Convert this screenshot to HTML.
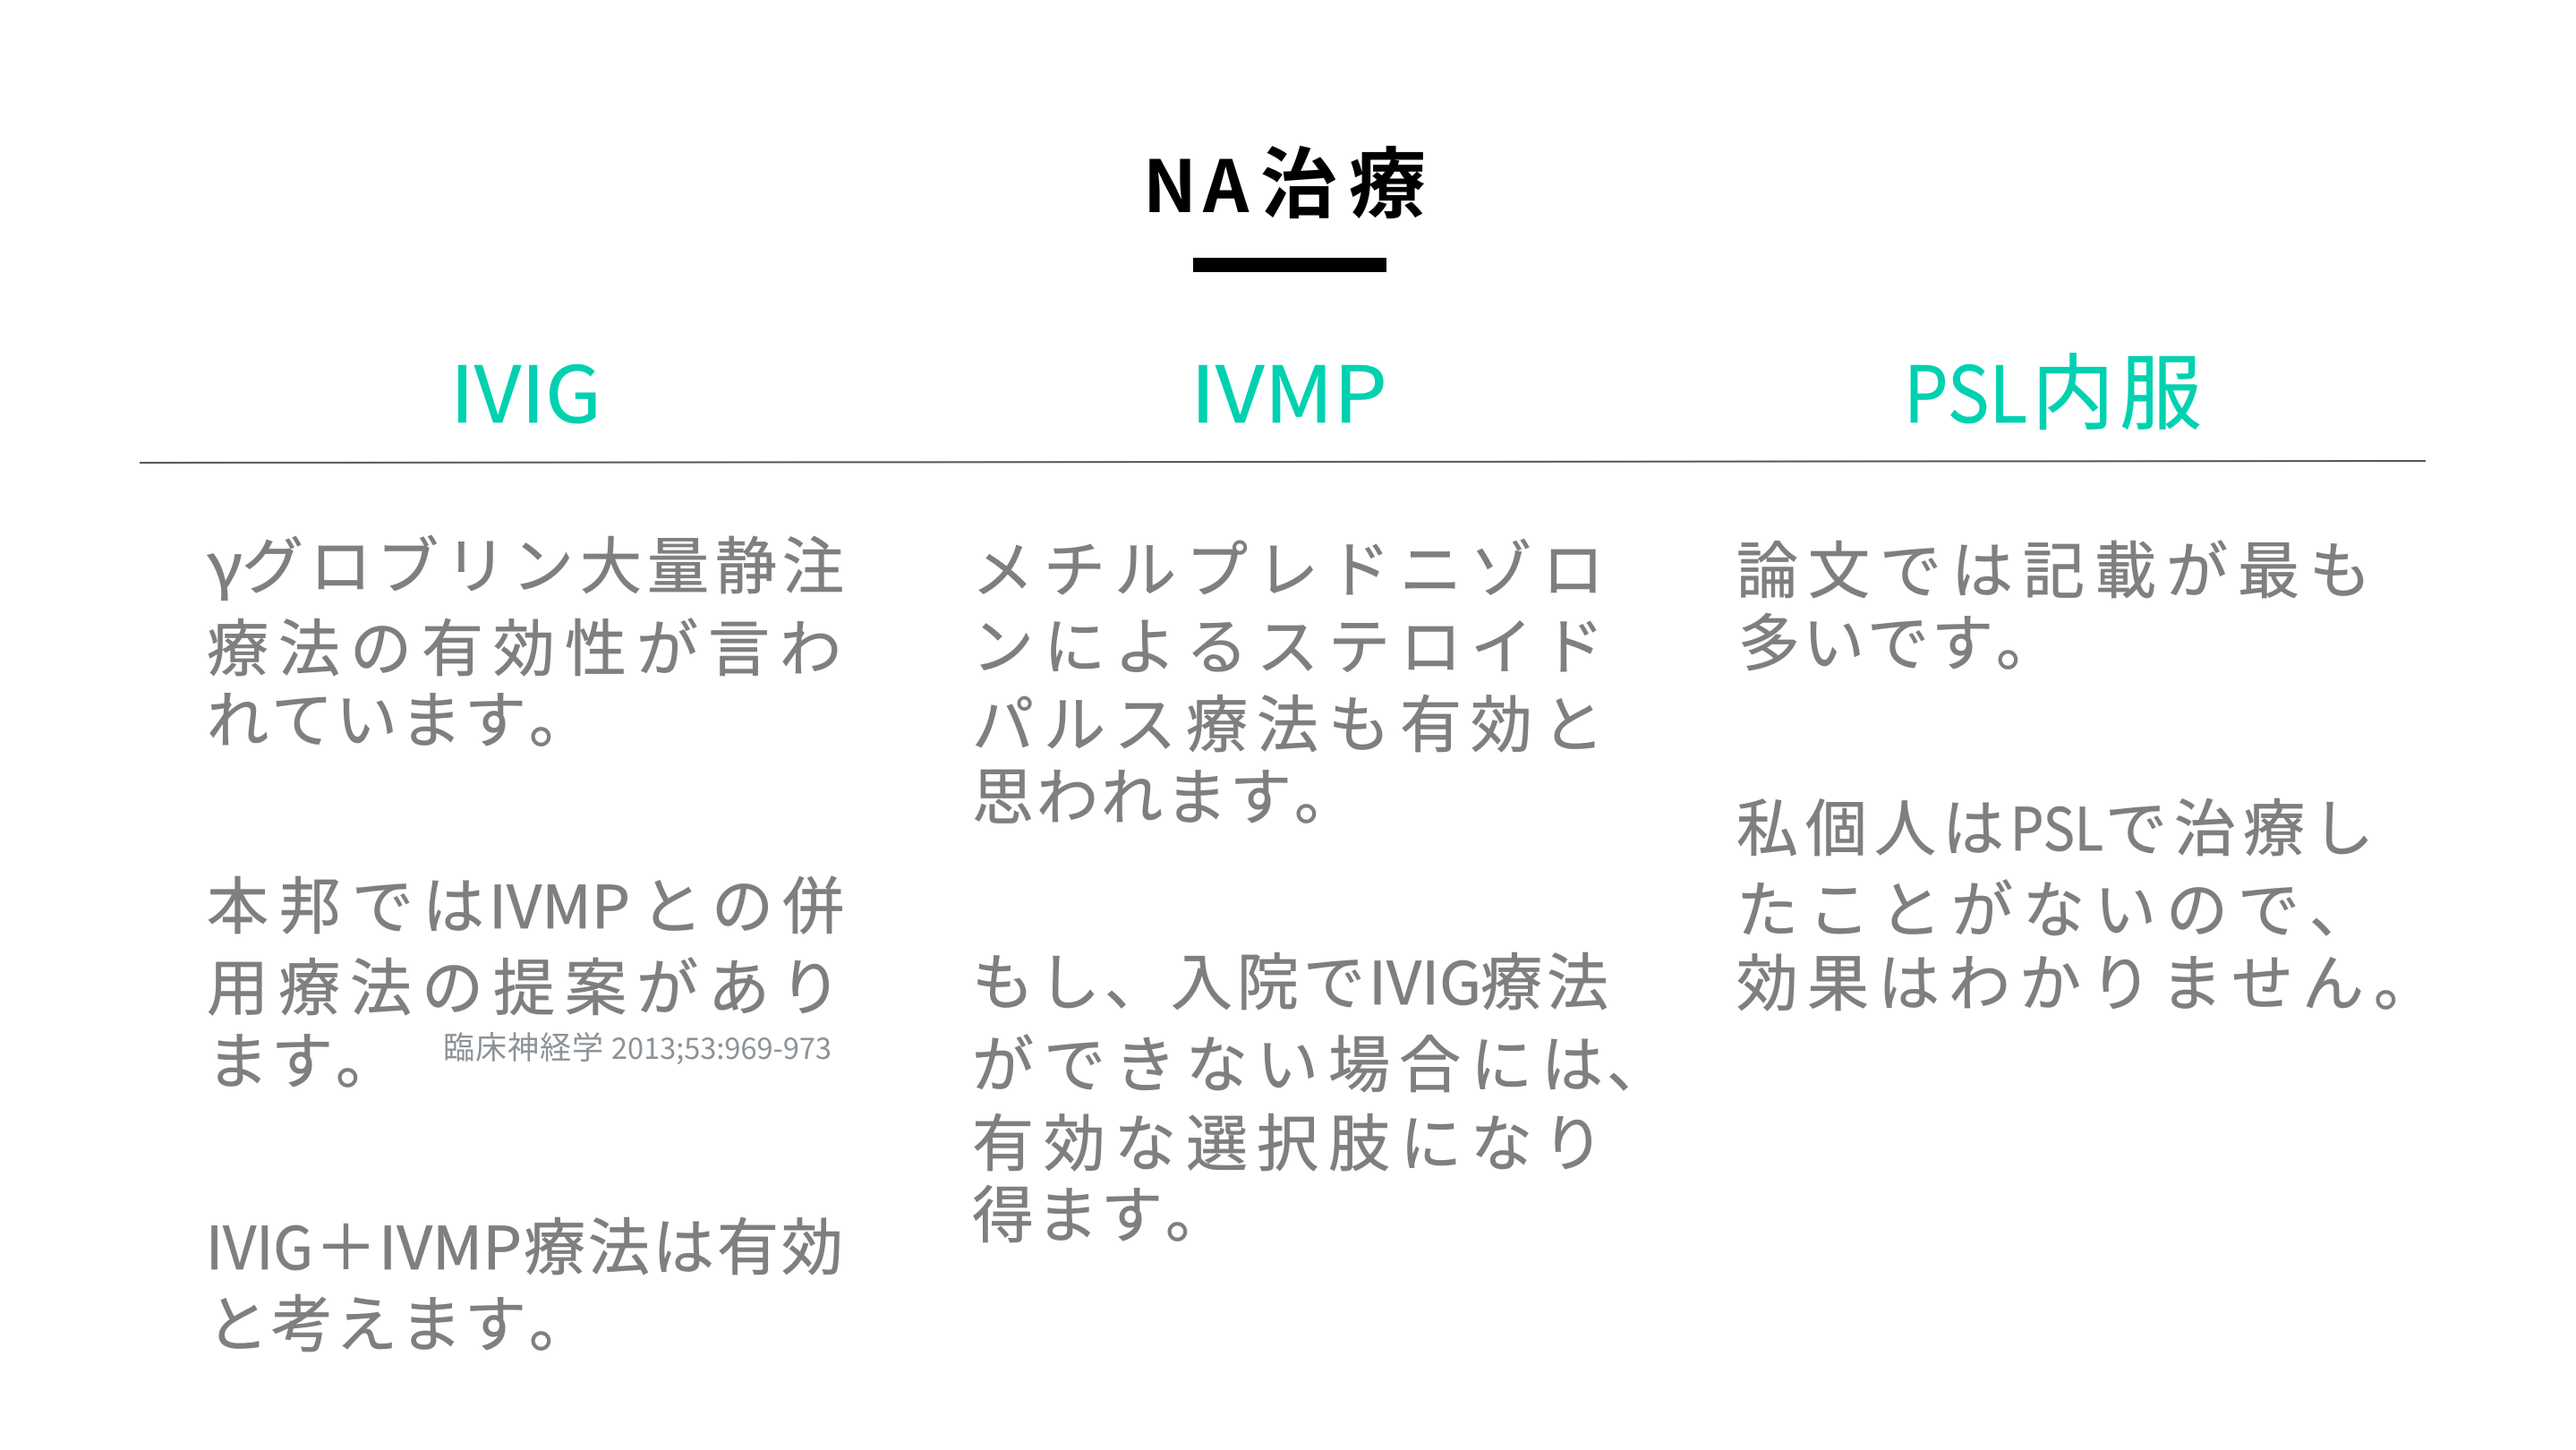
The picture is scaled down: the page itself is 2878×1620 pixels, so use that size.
<!DOCTYPE html>
<html><head><meta charset="utf-8"><style>
html,body{margin:0;padding:0;background:#fff}
svg{display:block}
text{font-family:"Noto Sans CJK JP","Liberation Sans",sans-serif}
.b{font-size:69px;fill:#7f7f7f;stroke:#7f7f7f;stroke-width:.7px}
.l{font-size:66px;fill:#7f7f7f;stroke:#7f7f7f;stroke-width:.7px}
.h{font-size:87px;fill:#00d1b0;stroke:#00d1b0;stroke-width:.6px}
.t{font-size:86px;font-weight:700;fill:#000}
</style></head><body>
<svg width="2878" height="1620" viewBox="0 0 2878 1620" xmlns="http://www.w3.org/2000/svg">
<rect width="2878" height="1620" fill="#fff"/>
<text class="t" x="1277 1344" y="237" style="font-size:80px">NA</text>
<text class="t" x="1408 1507" y="236">治療</text>
<rect x="1333" y="288" width="216" height="16" fill="#000"/>
<text class="h" x="503" y="472" textLength="169" lengthAdjust="spacingAndGlyphs">IVIG</text>
<text class="h" x="1330" y="472" textLength="220" lengthAdjust="spacingAndGlyphs">IVMP</text>
<text class="h" x="2127" y="472" textLength="138" lengthAdjust="spacingAndGlyphs">PSL</text>
<text class="h" x="2270 2368" y="472" style="font-size:92px">内服</text>
<line x1="156" y1="517" x2="2710" y2="515" stroke="#555" stroke-width="2"/>

<text class="b" x="231" y="657" textLength="40" lengthAdjust="spacingAndGlyphs">γ</text>
<text class="b" x="270 346 421 497 572 648 723 799 874" y="657">グロブリン大量静注</text>
<text class="b" x="231 311 391 471 551 631 711 791 871" y="749">療法の有効性が言わ</text>
<text class="b" x="231 303 375 447 519 591" y="829">れています。</text>
<text class="b" x="231 312 393 472" y="1037">本邦では</text>
<text class="l" x="546" y="1037" textLength="158" lengthAdjust="spacingAndGlyphs">IVMP</text>
<text class="b" x="716 795 874" y="1037">との併</text>
<text class="b" x="231 311 391 471 551 631 711 791 871" y="1128">用療法の提案があり</text>
<text class="b" x="231 303 375" y="1210">ます。</text>
<text x="495 531 567 603 639" y="1183" style="font-size:35px;fill:#8c9398">臨床神経学</text>
<text x="683" y="1183" style="font-size:33px;fill:#8c9398" textLength="246" lengthAdjust="spacingAndGlyphs">2013;53:969-973</text>
<text class="l" x="230" y="1418" textLength="120" lengthAdjust="spacingAndGlyphs">IVIG</text>
<text class="b" x="352" y="1418">＋</text>
<text class="l" x="423" y="1418" textLength="160" lengthAdjust="spacingAndGlyphs">IVMP</text>
<text class="b" x="585 657 729 801 873" y="1418">療法は有効</text>
<text class="b" x="231 303 375 447 519 591" y="1504">と考えます。</text>

<text class="b" x="1086 1166 1245 1325 1404 1484 1564 1643 1723" y="661">メチルプレドニゾロ</text>
<text class="b" x="1086 1166 1245 1325 1404 1484 1564 1643 1723" y="747">ンによるステロイド</text>
<text class="b" x="1086 1166 1245 1325 1404 1484 1564 1643 1723" y="834">パルス療法も有効と</text>
<text class="b" x="1086 1158 1230 1302 1374 1446" y="915">思われます。</text>
<text class="b" x="1086 1160 1234 1308 1382 1456" y="1122">もし、入院で</text>
<text class="l" x="1529" y="1122" textLength="126" lengthAdjust="spacingAndGlyphs">IVIG</text>
<text class="b" x="1654 1728" y="1122">療法</text>
<text class="b" x="1086 1166 1245 1325 1404 1484 1563 1643 1722 1795" y="1214">ができない場合には、</text>
<text class="b" x="1086 1166 1245 1325 1404 1484 1564 1643 1723" y="1302">有効な選択肢になり</text>
<text class="b" x="1086 1158 1230 1302" y="1382">得ます。</text>

<text class="b" x="1940 2020 2100 2180 2260 2340 2420 2500 2580" y="662">論文では記載が最も</text>
<text class="b" x="1942 2014 2086 2158 2230" y="743">多いです。</text>
<text class="b" x="1940 2017 2094 2170" y="950">私個人は</text>
<text class="l" x="2246" y="950" textLength="104" lengthAdjust="spacingAndGlyphs">PSL</text>
<text class="b" x="2352 2429 2506 2583" y="950">で治療し</text>
<text class="b" x="1940 2020 2100 2180 2260 2340 2420 2500 2580" y="1041">たことがないので、</text>
<text class="b" x="1940 2019 2098 2177 2256 2335 2414 2493 2572 2652" y="1123">効果はわかりません。</text>
</svg>
</body></html>
